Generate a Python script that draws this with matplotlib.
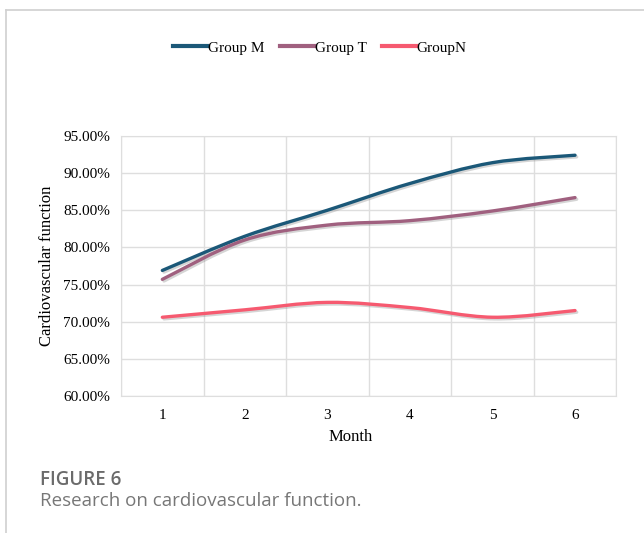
import numpy as np
import matplotlib.pyplot as plt
import matplotlib.patheffects as pe
from matplotlib.path import Path
from matplotlib.patches import PathPatch
from matplotlib.lines import Line2D
from matplotlib.ticker import FuncFormatter

# Data
months = [1, 2, 3, 4, 5, 6]
group_m = [0.769, 0.815, 0.850, 0.886, 0.914, 0.924]
group_t = [0.757, 0.810, 0.830, 0.836, 0.849, 0.867]
group_n = [0.706, 0.716, 0.726, 0.719, 0.706, 0.715]

names = ['Group M', 'Group T', 'GroupN']
colors = ['#1b5878', '#a0607f', '#f65a70']


def smooth_path(x, y):
    # Catmull-Rom style bezier through the points (like a "smoothed line")
    pts = np.column_stack([x, y]).astype(float)
    n = len(pts)
    verts = [pts[0]]
    codes = [Path.MOVETO]
    for i in range(n - 1):
        p0 = pts[max(i - 1, 0)]
        p1 = pts[i]
        p2 = pts[i + 1]
        p3 = pts[min(i + 2, n - 1)]
        c1 = p1 + (p2 - p0) / 6.0
        c2 = p2 - (p3 - p1) / 6.0
        verts += [c1, c2, p2]
        codes += [Path.CURVE4] * 3
    return Path(verts, codes)


plt.rcParams['font.family'] = ['Liberation Serif', 'DejaVu Serif']

fig = plt.figure(figsize=(6.44, 5.33), dpi=100)
ax = fig.add_axes([0.188, 0.257, 0.769, 0.488])

shadow = [pe.SimpleLineShadow(offset=(1.2, -1.2), shadow_color='#888888', alpha=0.35),
          pe.Normal()]

for vals, c in zip([group_m, group_t, group_n], colors):
    patch = PathPatch(smooth_path(months, vals), fill=False, edgecolor=c,
                      lw=2.4, capstyle='round', zorder=3)
    patch.set_path_effects(shadow)
    ax.add_patch(patch)

ax.set_xlim(0.5, 6.5)
ax.set_ylim(0.60, 0.95)
ax.set_xticks(months)
ax.set_xticks(np.arange(0.5, 7, 1), minor=True)
ax.set_yticks(np.arange(0.60, 0.951, 0.05))
ax.yaxis.set_major_formatter(FuncFormatter(lambda v, p: f'{v * 100:.2f}%'))
ax.tick_params(axis='both', which='both', length=0, labelsize=11, pad=8)
ax.tick_params(axis='x', pad=9)
ax.grid(axis='y', which='major', color='#dedede', lw=1)
ax.grid(axis='x', which='minor', color='#dedede', lw=1)
for s in ax.spines.values():
    s.set_color('#dedede')

ax.set_ylabel('Cardiovascular function', fontsize=12, labelpad=6)
ax.set_xlabel('Month', fontsize=12)
ax.xaxis.set_label_coords((350 - 121) / 495, -0.128)

handles = [Line2D([], [], color=c, lw=3) for c in colors]
fig.legend(handles, names, loc='center', bbox_to_anchor=(0.497, 0.910), ncol=3,
           frameon=False, fontsize=11, handlelength=2.2, handletextpad=0.05,
           columnspacing=1.05)

# frame lines of the figure panel
fig.add_artist(Line2D([0.009, 1.0], [0.981, 0.981], color='#d0d0d0', lw=1.2))
fig.add_artist(Line2D([0.009, 0.009], [0.0, 0.981], color='#d0d0d0', lw=1.2))

fig.text(0.062, 0.099, 'FIGURE 6', family=['Open Sans', 'DejaVu Sans'],
         fontsize=13.5, weight='semibold', color='#6b6b6b', va='center')
fig.text(0.062, 0.060, 'Research on cardiovascular function.',
         family=['Open Sans', 'DejaVu Sans'], fontsize=13.5, color='#777777',
         va='center')

fig.savefig('out.png', dpi=100)
